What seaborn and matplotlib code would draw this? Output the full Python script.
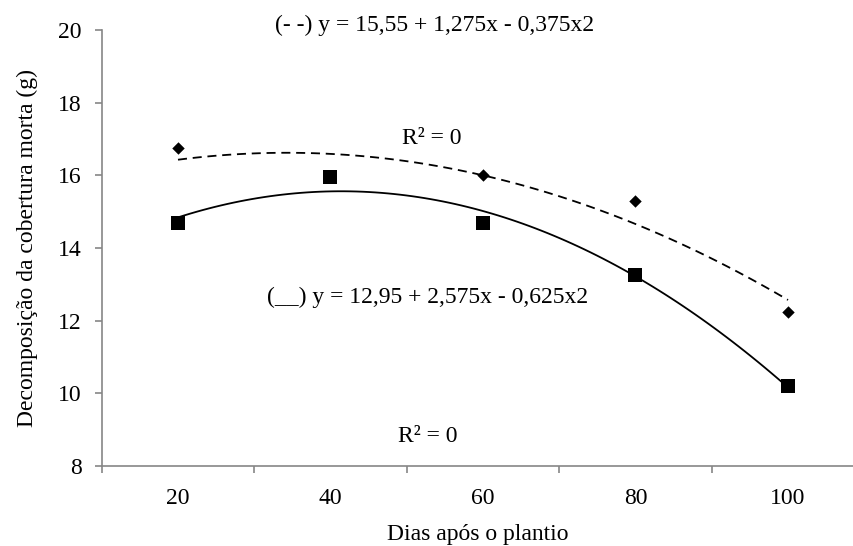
import matplotlib
matplotlib.use("Agg")
import matplotlib.pyplot as plt
import seaborn as sns
import pandas as pd
from matplotlib.ticker import FixedLocator

# Data
dias = [20, 40, 60, 80, 100]
serie_tracejada = [16.75, 15.95, 16.0, 15.3, 12.25]   # diamonds, dashed trend
serie_continua = [14.7, 15.95, 14.7, 13.25, 10.2]     # squares, solid trend
x_tick_labels = ["20", "40", "60", "80", "100"]
y_ticks = [8, 10, 12, 14, 16, 18, 20]

eq_tracejada = "(- -) y = 15,55 + 1,275x - 0,375x2"
eq_continua = "(__) y = 12,95 + 2,575x - 0,625x2"
r2_text = "R² = 0"

df = pd.DataFrame({"dias": dias, "a": serie_tracejada, "b": serie_continua})

sns.set_theme(style="white")
plt.rcParams["font.family"] = ["Liberation Serif", "DejaVu Serif"]

FS = 17

fig = plt.figure(figsize=(8.54, 5.46), dpi=100)
ax = fig.add_axes([101.75 / 854, 1 - 466 / 546, (854 - 101.75) / 854, (466 - 30) / 546])

# dashed series (diamonds)
sns.regplot(data=df, x="dias", y="a", order=2, ci=None, ax=ax, marker="D",
            scatter_kws=dict(s=40, color="black", alpha=1, linewidths=0, zorder=3),
            line_kws=dict(color="black", lw=1.3, ls=(0, (5, 3.2))), color="black")
# solid series (squares)
sns.regplot(data=df, x="dias", y="b", order=2, ci=None, ax=ax, marker="s",
            scatter_kws=dict(s=105, color="black", alpha=1, linewidths=0, zorder=4),
            line_kws=dict(color="black", lw=1.3), color="black")

ax.set_xlim(10, 10 + (854 - 101.75) / 7.625)
ax.set_ylim(8, 20)
ax.set_yticks(y_ticks)
ax.set_yticklabels([str(v) for v in y_ticks])

ax.xaxis.set_major_locator(FixedLocator([10, 30, 50, 70, 90, 110]))
ax.set_xticklabels([])
ax.xaxis.set_minor_locator(FixedLocator(dias))
ax.set_xticklabels(x_tick_labels, minor=True)

gray = "#868686"
for s in ["top", "right"]:
    ax.spines[s].set_visible(False)
for s in ["left", "bottom"]:
    ax.spines[s].set_color(gray)
    ax.spines[s].set_linewidth(1.2)

ax.tick_params(axis="y", which="major", direction="out", length=5, width=1.2,
               color=gray, labelsize=FS, labelcolor="black", left=True, pad=9.5)
ax.tick_params(axis="x", which="major", direction="out", length=5, width=1.2,
               color=gray, bottom=True)
ax.tick_params(axis="x", which="minor", length=0, labelsize=FS,
               labelcolor="black", pad=16)

ax.set_xlabel("Dias após o plantio", fontsize=FS, color="black", labelpad=10.5)
ax.set_ylabel("Decomposição da cobertura morta (g)", fontsize=FS, color="black", labelpad=14.5)

def fig_text(xp, yp, s):
    fig.text(xp / 854, 1 - yp / 546, s, ha="center", va="center",
             fontsize=FS, color="black")

fig_text(435, 25, eq_tracejada)
fig_text(432, 138, r2_text)
fig_text(428, 297, eq_continua)
fig_text(428, 437, r2_text)

fig.savefig("out.png", dpi=100)
